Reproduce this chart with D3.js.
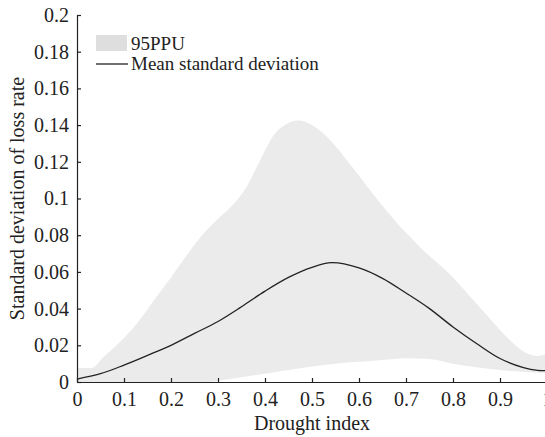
<!doctype html>
<html>
  <head>
    <meta charset="utf-8">
    <title>Standard deviation of loss rate</title>
    <script src="https://cdn.jsdelivr.net/npm/d3@7"></script>
    <style>
      body { margin: 0; background: #fff; }
      svg text { font-family: 'Liberation Serif', 'DejaVu Serif', serif; font-size: 20px; fill: #222; }
    </style>
  </head>
  <body>
    <script>
      // values
      var bandX     = [0, 0.03, 0.057, 0.1, 0.128, 0.164, 0.2, 0.236, 0.27, 0.3, 0.33, 0.36, 0.39, 0.42, 0.445, 0.47, 0.5, 0.53, 0.58, 0.65, 0.69, 0.736, 0.8, 0.843, 0.88, 0.92, 0.957, 0.98, 1.0];
      var bandUpper = [0.0076, 0.0076, 0.0138, 0.024, 0.032, 0.0447, 0.057, 0.07, 0.081, 0.089, 0.096, 0.106, 0.121, 0.135, 0.1405, 0.1425, 0.14, 0.134, 0.119, 0.096, 0.084, 0.072, 0.057, 0.0447, 0.034, 0.023, 0.0156, 0.0142, 0.0153];

      var lowerX    = [0, 0.1, 0.2, 0.28, 0.32, 0.36, 0.4, 0.45, 0.5, 0.55, 0.6, 0.65, 0.7, 0.75, 0.8, 0.85, 0.9, 0.95, 1.0];
      var bandLower = [0, 0, 0, 0, 0.0015, 0.003, 0.0045, 0.0065, 0.0085, 0.010, 0.011, 0.012, 0.013, 0.0125, 0.010, 0.008, 0.0065, 0.0055, 0.005];

      var meanX   = [0, 0.05, 0.1, 0.15, 0.2, 0.25, 0.3, 0.35, 0.4, 0.45, 0.5, 0.542, 0.6, 0.65, 0.7, 0.75, 0.8, 0.85, 0.9, 0.95, 0.98, 1.0];
      var meanStd = [0.0016, 0.0045, 0.0092, 0.0145, 0.020, 0.0265, 0.033, 0.041, 0.0495, 0.057, 0.0625, 0.065, 0.0622, 0.0565, 0.0485, 0.040, 0.030, 0.021, 0.0128, 0.0078, 0.0063, 0.0063];

      var xTicks = [0, 0.1, 0.2, 0.3, 0.4, 0.5, 0.6, 0.7, 0.8, 0.9, 1];
      var xTickLabels = ['0', '0.1', '0.2', '0.3', '0.4', '0.5', '0.6', '0.7', '0.8', '0.9', '1'];
      var yTicks = [0, 0.02, 0.04, 0.06, 0.08, 0.1, 0.12, 0.14, 0.16, 0.18, 0.2];
      var yTickLabels = ['0', '0.02', '0.04', '0.06', '0.08', '0.1', '0.12', '0.14', '0.16', '0.18', '0.2'];

      var legendLabels = ['95PPU', 'Mean standard deviation'];

      var svgWidth = 545;
      var svgHeight = 437;
      var serif = "'Liberation Serif', 'DejaVu Serif', serif";

      var svg = d3.select('body').append('svg')
        .attr('width', svgWidth)
        .attr('height', svgHeight);

      var x = d3.scaleLinear().domain([0, 1]).range([77, 547]);
      var y = d3.scaleLinear().domain([0, 0.2]).range([382, 15]);

      var upperPts = bandX.map(function (d, i) { return [d, bandUpper[i]]; });
      var lowerPts = lowerX.map(function (d, i) { return [d, bandLower[i]]; });
      var meanPts = meanX.map(function (d, i) { return [d, meanStd[i]]; });

      var meanLine = d3.line()
        .x(function (d) { return x(d[0]); })
        .y(function (d) { return y(d[1]); })
        .curve(d3.curveCatmullRom.alpha(0.5));

      // fill under upper edge, then white out under lower edge
      var areaUp = d3.area()
        .x(function (d) { return x(d[0]); })
        .y0(y(0))
        .y1(function (d) { return y(d[1]); })
        .curve(d3.curveMonotoneX);

      var band = svg.append('g');
      band.append('path')
        .attr('d', areaUp(upperPts))
        .attr('fill', '#ebebeb');
      band.append('path')
        .attr('d', areaUp(lowerPts))
        .attr('fill', '#fff');

      svg.append('path')
        .attr('d', meanLine(meanPts))
        .attr('fill', 'none')
        .attr('stroke', '#222')
        .attr('stroke-width', 1.3);

      // axes, ticks pointing inwards
      var xAxis = d3.axisBottom(x)
        .tickValues(xTicks)
        .tickFormat(function (d, i) { return xTickLabels[i]; })
        .tickSizeInner(-4)
        .tickSizeOuter(0)
        .tickPadding(10);

      var yAxis = d3.axisLeft(y)
        .tickValues(yTicks)
        .tickFormat(function (d, i) { return yTickLabels[i]; })
        .tickSizeInner(-4)
        .tickSizeOuter(0)
        .tickPadding(8);

      var gx = svg.append('g')
        .attr('transform', 'translate(0,' + y(0) + ')')
        .call(xAxis);

      var gy = svg.append('g')
        .attr('transform', 'translate(' + x(0) + ',0)')
        .call(yAxis);

      [gx, gy].forEach(function (g) {
        g.attr('font-family', serif).attr('font-size', 20);
        g.selectAll('path, line').attr('stroke', '#222').attr('stroke-width', 1.2);
        g.selectAll('text').attr('fill', '#222');
      });

      svg.append('text')
        .attr('x', x(0.5))
        .attr('y', 430)
        .attr('text-anchor', 'middle')
        .text('Drought index');

      svg.append('text')
        .attr('transform', 'translate(24,' + y(0.1) + ') rotate(-90)')
        .attr('text-anchor', 'middle')
        .text('Standard deviation of loss rate');

      // legend
      var legend = svg.append('g');
      legend.append('rect')
        .attr('x', 96).attr('y', 35)
        .attr('width', 31).attr('height', 16)
        .attr('fill', '#dedede');
      legend.append('text')
        .attr('x', 131).attr('y', 50)
        .style('font-size', '19px')
        .text(legendLabels[0]);
      legend.append('line')
        .attr('x1', 96).attr('x2', 128)
        .attr('y1', 64).attr('y2', 64)
        .attr('stroke', '#222')
        .attr('stroke-width', 1.3);
      legend.append('text')
        .attr('x', 131).attr('y', 70)
        .style('font-size', '19px')
        .text(legendLabels[1]);
    </script>
  </body>
</html>
